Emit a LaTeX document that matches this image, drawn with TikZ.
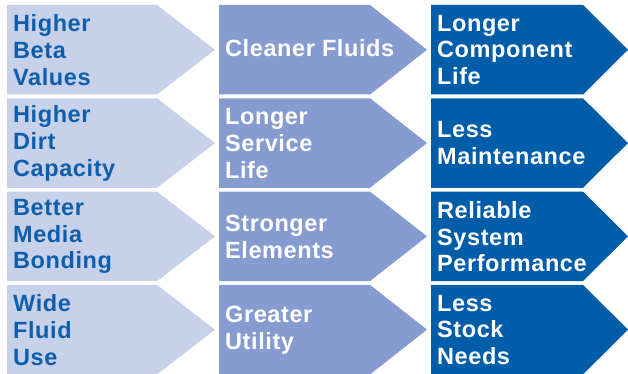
\documentclass[tikz,border=0pt]{standalone}
\usepackage{fontspec}
\setmainfont{Liberation Sans}[LetterSpace=2.5]
\definecolor{cLight}{RGB}{200,209,234}
\definecolor{cMid}{RGB}{134,155,207}
\definecolor{cDark}{RGB}{0,93,170}
\definecolor{cText}{RGB}{14,94,172}
\newcommand{\chevshape}[6]{%
  \fill[#6] (#1,#4) -- (#2,#4) -- (#3,{(#4+#5)/2}) -- (#2,#5) -- (#1,#5) -- cycle;}
\begin{document}
\begin{tikzpicture}[x=1pt,y=-1pt,
  lbl/.style={anchor=west,align=left,inner sep=0pt,
    font=\bfseries\fontsize{23.5}{26.8}\selectfont},
  lblA/.style={lbl,text=cText},
  lblW/.style={lbl,text=white}]
\useasboundingbox (0,0) rectangle (628,374);
% rows: top/bottom
\foreach \t/\b in {5/94.5, 98.3/187.8, 191.6/281.1, 284.9/374.4}{
  \chevshape{7}{157}{215}{\t}{\b}{cLight}
  \chevshape{219}{370}{427}{\t}{\b}{cMid}
  \chevshape{431}{583}{628}{\t}{\b}{cDark}
}
% column 1
\node[lblA] (a1) at (13,50) {Higher\\Beta\\Values};
\node[lblA] (a2) at (13,143.3) {Higher\\Dirt\\Capacity};
\node[lblA] (a3) at (13,236.6) {Better\\Media\\Bonding};
\node[lblA] (a4) at (13,329.9) {Wide\\Fluid\\Use};
% column 2
\node[lblW] (b1) at (225,48.5) {Cleaner Fluids};
\node[lblW] (b2) at (225,143.3) {Longer\\Service\\Life};
\node[lblW] (b3) at (225,236.6) {Stronger\\Elements};
\node[lblW] (b4) at (225,329.9) {Greater\\Utility};
% column 3
\node[lblW] (c1) at (437,50) {Longer\\Component\\Life};
\node[lblW] (c2) at (437,143.3) {Less\\Maintenance};
\node[lblW] (c3) at (437,236.6) {Reliable\\System\\Performance};
\node[lblW] (c4) at (437,329.9) {Less\\Stock\\Needs};
\end{tikzpicture}
\end{document}
